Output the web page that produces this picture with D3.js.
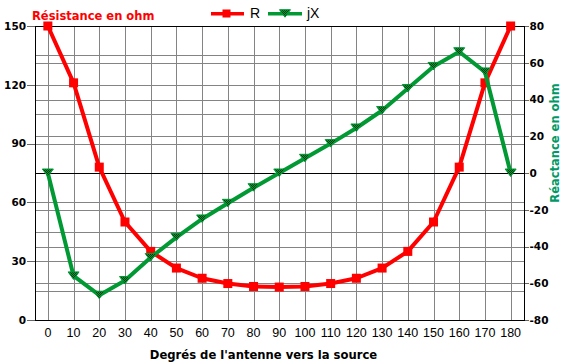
<!DOCTYPE html>
<html><head><meta charset="utf-8">
<script src="https://cdn.jsdelivr.net/npm/d3@7"></script>
<style>
html,body{margin:0;padding:0;background:#fff;}
svg{display:block;}
</style></head>
<body>
<svg id="chart" width="563" height="364"></svg>
<script>
const degrees = [0,10,20,30,40,50,60,70,80,90,100,110,120,130,140,150,160,170,180];
const resistance = [150,121,78,50,35,26.5,21.3,18.6,17.1,16.8,17.1,18.6,21.3,26.5,35,50,78,121,150];
const reactance = [0,-56,-66.5,-58.5,-46,-35,-25,-16.5,-8,0,8,16,24.5,34,46,58,66,55,0];
const leftTicks = [0,30,60,90,120,150];
const leftGrid = [0,15,30,45,60,75,90,105,120,135,150];
const rightTicks = [-80,-60,-40,-20,0,20,40,60,80];
const seriesNames = ["R","jX"];
const leftTitle = "Résistance en ohm";
const rightTitle = "Réactance en ohm";
const xTitle = "Degrés de l'antenne vers la source";

const svg = d3.select("#chart");
const L = 35, R = 523.5, T = 26, B = 320;
const x = d3.scaleLinear().domain([-5,185]).range([L,R]);
const yL = d3.scaleLinear().domain([0,150]).range([B,T]);
const yR = d3.scaleLinear().domain([-80,80]).range([B,T]);

const RED = "#ff0000", GREEN = "#009933";
const bold = "'DejaVu Sans', Verdana, sans-serif";

const defs = svg.append("defs");
const pat = defs.append("pattern").attr("id","chk").attr("width",2).attr("height",2).attr("patternUnits","userSpaceOnUse");
pat.append("rect").attr("width",2).attr("height",2).attr("fill","#009933");
pat.append("rect").attr("width",1).attr("height",1).attr("fill","#003a14");
pat.append("rect").attr("x",1).attr("y",1).attr("width",1).attr("height",1).attr("fill","#003a14");

const g = svg.append("g").attr("shape-rendering","crispEdges");
g.selectAll(".vg").data(degrees).enter().append("line")
  .attr("x1",d=>Math.round(x(d))+0.5).attr("x2",d=>Math.round(x(d))+0.5)
  .attr("y1",T).attr("y2",B).attr("stroke","#848484").attr("stroke-width",1);
g.selectAll(".hl").data(leftGrid).enter().append("line")
  .attr("x1",L).attr("x2",R).attr("y1",d=>Math.round(yL(d))+0.5).attr("y2",d=>Math.round(yL(d))+0.5)
  .attr("stroke","#848484");
g.selectAll(".hr").data(rightTicks).enter().append("line")
  .attr("x1",L).attr("x2",R).attr("y1",d=>Math.round(yR(d))+0.5).attr("y2",d=>Math.round(yR(d))+0.5)
  .attr("stroke","#848484");

g.selectAll(".lt").data(leftTicks).enter().append("line")
  .attr("x1",L-8).attr("x2",L).attr("y1",d=>Math.round(yL(d))+0.5).attr("y2",d=>Math.round(yL(d))+0.5)
  .attr("stroke","#666");
g.selectAll(".rt").data(rightTicks).enter().append("line")
  .attr("x1",R).attr("x2",R+5).attr("y1",d=>Math.round(yR(d))+0.5).attr("y2",d=>Math.round(yR(d))+0.5)
  .attr("stroke","#666");

const ax = svg.append("g").attr("shape-rendering","crispEdges").attr("stroke","#000");
ax.append("line").attr("x1",L+0.5).attr("x2",L+0.5).attr("y1",T).attr("y2",B+1);
ax.append("line").attr("x1",Math.round(R)+0.5).attr("x2",Math.round(R)+0.5).attr("y1",T).attr("y2",B+1);
ax.append("line").attr("x1",L).attr("x2",R+1).attr("y1",T+0.5).attr("y2",T+0.5);
ax.append("line").attr("x1",L).attr("x2",R+1).attr("y1",Math.round(yR(0))+0.5).attr("y2",Math.round(yR(0))+0.5);
ax.append("line").attr("x1",L).attr("x2",R+1).attr("y1",B+0.5).attr("y2",B+0.5);

svg.selectAll(".ll").data(leftTicks).enter().append("text")
  .attr("x",26).attr("y",d=>yL(d)).attr("dy","0.36em").attr("text-anchor","end")
  .attr("font-family",bold).attr("font-weight","bold").attr("font-size","10.5px").attr("fill","#000")
  .text(d=>d);
svg.selectAll(".rl").data(rightTicks).enter().append("text")
  .attr("x",R+6).attr("y",d=>yR(d)).attr("dy","0.36em").attr("text-anchor","start")
  .attr("font-family",bold).attr("font-weight","bold").attr("font-size","10.5px").attr("fill","#000")
  .text(d=>d);
svg.selectAll(".xl").data(degrees).enter().append("text")
  .attr("x",d=>x(d)).attr("y",337).attr("text-anchor","middle")
  .attr("font-family","'Liberation Sans', Arial, sans-serif").attr("font-size","12.5px").attr("fill","#000")
  .text(d=>d);

svg.append("text").attr("x",32).attr("y",19.5).attr("font-family",bold).attr("font-weight","bold")
  .attr("font-size","11.5px").attr("fill",RED).text(leftTitle);
svg.append("text").attr("transform","translate(559,143) rotate(-90)").attr("text-anchor","middle")
  .attr("font-family",bold).attr("font-weight","bold").attr("font-size","11.5px").attr("fill","#009966").text(rightTitle);
svg.append("text").attr("x",263.5).attr("y",359).attr("text-anchor","middle").attr("font-family",bold)
  .attr("font-weight","bold").attr("font-size","11.6px").attr("fill","#000").text(xTitle);

const lineR = d3.line().x((d,i)=>x(degrees[i])).y(d=>yL(d));
const lineX = d3.line().x((d,i)=>x(degrees[i])).y(d=>yR(d));
svg.append("path").attr("d",lineR(resistance)).attr("fill","none").attr("stroke",RED).attr("stroke-width",4).attr("stroke-linejoin","round");
svg.selectAll(".rm").data(resistance).enter().append("rect")
  .attr("x",(d,i)=>x(degrees[i])-4.5).attr("y",d=>yL(d)-4.5).attr("width",9).attr("height",9).attr("fill",RED);
svg.append("path").attr("d",lineX(reactance)).attr("fill","none").attr("stroke",GREEN).attr("stroke-width",4).attr("stroke-linejoin","round");
const tri = (cx,cy)=>`M${cx-5.5},${cy-4}L${cx+5.5},${cy-4}L${cx},${cy+3.5}Z`;
svg.selectAll(".xm").data(reactance).enter().append("path")
  .attr("d",(d,i)=>tri(x(degrees[i]),yR(d))).attr("fill","url(#chk)").attr("stroke",GREEN).attr("stroke-width",1);

const lg = svg.append("g");
lg.append("line").attr("x1",211).attr("x2",244).attr("y1",13.7).attr("y2",13.7).attr("stroke",RED).attr("stroke-width",3.5);
lg.append("rect").attr("x",222.5).attr("y",9.5).attr("width",8).attr("height",8).attr("fill",RED);
lg.append("text").attr("x",250).attr("y",18).attr("font-family","'Liberation Sans', Arial, sans-serif").attr("font-size","14px").attr("fill","#000").text(seriesNames[0]);
lg.append("line").attr("x1",268).attr("x2",302).attr("y1",13.7).attr("y2",13.7).attr("stroke",GREEN).attr("stroke-width",3.5);
lg.append("path").attr("d",tri(285,13.7)).attr("fill","url(#chk)").attr("stroke",GREEN);
lg.append("text").attr("x",307).attr("y",18).attr("font-family","'Liberation Sans', Arial, sans-serif").attr("font-size","14px").attr("fill","#000").text(seriesNames[1]);
</script>
</body></html>
